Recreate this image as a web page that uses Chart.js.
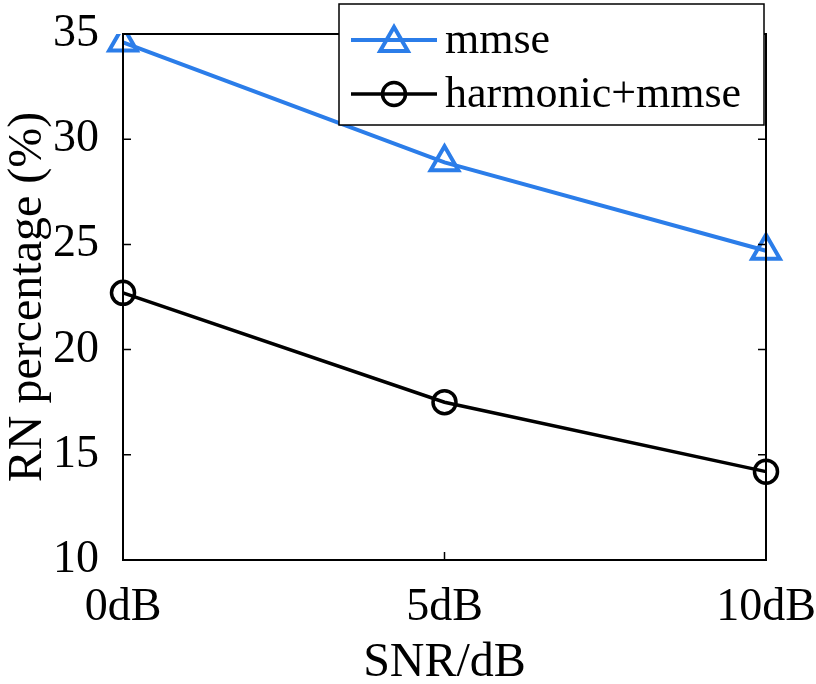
<!DOCTYPE html>
<html lang="en">
<head>
  <meta charset="UTF-8">
  <title>RN percentage vs SNR</title>
  <script src="https://cdn.jsdelivr.net/npm/chart.js"></script>
  <style>
    body { margin: 0; background: #fff; }
    canvas { display: block; }
  </style>
</head>
<body>
  <canvas id="grafico" width="816" height="684"></canvas>

  <script>
    // data
    const categories = ['0dB', '5dB', '10dB'];
    const mmse = [34.6, 28.9, 24.7];
    const harmonicMmse = [22.7, 17.5, 14.2];
    const yMin = 10, yMax = 35, yStep = 5;

    const serif = "'Liberation Serif', 'Times New Roman', serif";
    const blue = '#2b7de9';

    // box around the plot + inward tick marks (MATLAB style)
    const boxTicks = {
      id: 'boxTicks',
      afterDraw(chart) {
        const { ctx, chartArea: a, scales } = chart;
        ctx.save();
        ctx.strokeStyle = '#000';
        ctx.lineWidth = 2;
        ctx.strokeRect(a.left, a.top, a.right - a.left, a.bottom - a.top);
        ctx.lineWidth = 1.5;
        ctx.beginPath();
        scales.y.ticks.forEach(t => {
          const y = scales.y.getPixelForValue(t.value);
          ctx.moveTo(a.left, y); ctx.lineTo(a.left + 8, y);
          ctx.moveTo(a.right, y); ctx.lineTo(a.right - 8, y);
        });
        scales.x.ticks.forEach((t, i) => {
          const x = scales.x.getPixelForTick(i);
          ctx.moveTo(x, a.bottom); ctx.lineTo(x, a.bottom - 8);
          ctx.moveTo(x, a.top); ctx.lineTo(x, a.top + 8);
        });
        ctx.stroke();
        ctx.restore();
      }
    };

    // legend box that sits over the top edge of the plot
    const boxLegend = {
      id: 'boxLegend',
      afterDraw(chart) {
        const { ctx } = chart;
        const x0 = 339, y0 = 4, w = 425, h = 121;
        ctx.save();
        ctx.fillStyle = '#fff';
        ctx.fillRect(x0, y0, w, h);
        ctx.strokeStyle = '#000';
        ctx.lineWidth = 1.5;
        ctx.strokeRect(x0, y0, w, h);
        const rows = [40, 94];
        chart.data.datasets.forEach((ds, i) => {
          const y = rows[i];
          ctx.strokeStyle = ds.borderColor;
          ctx.lineWidth = ds.borderWidth;
          ctx.beginPath();
          ctx.moveTo(351, y); ctx.lineTo(437, y);
          ctx.stroke();
          ctx.fillStyle = 'rgba(0,0,0,0)';
          ctx.strokeStyle = ds.pointBorderColor;
          ctx.lineWidth = ds.pointBorderWidth;
          Chart.helpers.drawPoint(ctx, {
            pointStyle: ds.pointStyle,
            radius: ds.pointRadius,
            borderWidth: ds.pointBorderWidth,
            rotation: 0
          }, 394, y + (ds.pointStyle === 'triangle' ? 3 : 0));
          ctx.fillStyle = '#000';
          ctx.font = '44px ' + serif;
          ctx.textBaseline = 'middle';
          ctx.textAlign = 'left';
          ctx.fillText(ds.label, 445, y + 1);
        });
        ctx.restore();
      }
    };

    const ctx = document.getElementById('grafico').getContext('2d');
    new Chart(ctx, {
      type: 'line',
      data: {
        labels: categories,
        datasets: [{
          label: 'mmse',
          data: mmse,
          borderColor: blue,
          backgroundColor: 'rgba(0,0,0,0)',
          borderWidth: 4,
          pointStyle: 'triangle',
          pointRadius: 16,
          pointBorderWidth: 4,
          pointBorderColor: blue,
          pointBackgroundColor: 'rgba(0,0,0,0)',
          tension: 0
        }, {
          label: 'harmonic+mmse',
          data: harmonicMmse,
          borderColor: '#000',
          backgroundColor: 'rgba(0,0,0,0)',
          borderWidth: 3.5,
          pointStyle: 'circle',
          pointRadius: 11.5,
          pointBorderWidth: 3.5,
          pointBorderColor: '#000',
          pointBackgroundColor: 'rgba(0,0,0,0)',
          tension: 0
        }]
      },
      options: {
        responsive: false,
        animation: false,
        devicePixelRatio: 1,
        layout: { padding: { top: 34, right: 50, left: 0, bottom: 0 } },
        plugins: {
          legend: { display: false },
          tooltip: { enabled: false }
        },
        scales: {
          x: {
            type: 'category',
            offset: false,
            grid: { display: false },
            border: { display: false },
            ticks: {
              color: '#000',
              font: { family: serif, size: 46 },
              padding: 12,
              maxRotation: 0
            },
            title: {
              display: true,
              text: 'SNR/dB',
              color: '#000',
              font: { family: serif, size: 48, lineHeight: 1.0 },
              padding: { top: 0, bottom: -3 }
            },
            afterFit(scale) {
              scale.height = 124;
              scale.paddingLeft = 0;
              scale.paddingRight = 0;
            }
          },
          y: {
            min: yMin,
            max: yMax,
            grid: { display: false },
            border: { display: false },
            ticks: {
              stepSize: yStep,
              color: '#000',
              font: { family: serif, size: 46 },
              padding: 16
            },
            title: {
              display: true,
              text: 'RN percentage (%)',
              color: '#000',
              font: { family: serif, size: 48, lineHeight: 1.0 },
              padding: 4
            },
            afterFit(scale) {
              scale.width = 123;
              scale.paddingTop = 0;
              scale.paddingBottom = 0;
            }
          }
        }
      },
      plugins: [boxTicks, boxLegend]
    });
  </script>
</body>
</html>
